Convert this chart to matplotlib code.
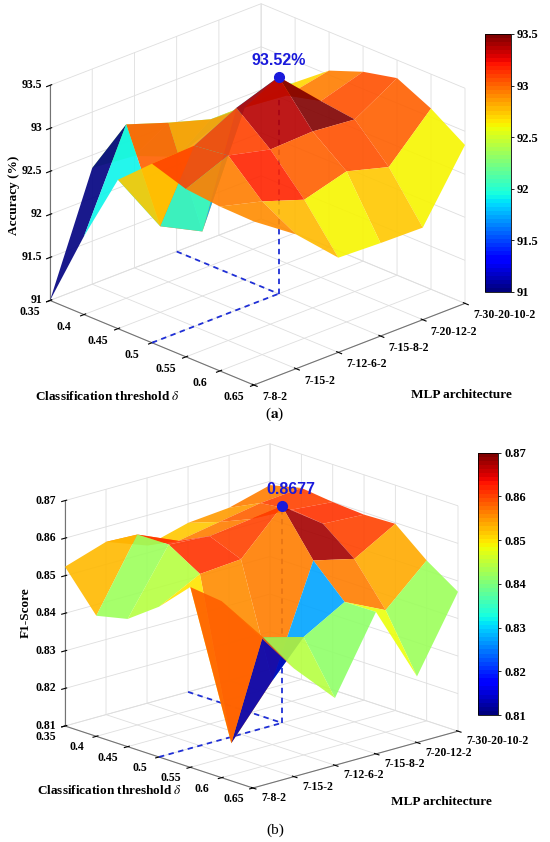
import matplotlib
matplotlib.use('Agg')
import matplotlib.pyplot as plt
import numpy as np
from matplotlib import colors as mcolors
from matplotlib import cm
from matplotlib.transforms import IdentityTransform
from mpl_toolkits.mplot3d import proj3d

plt.rcParams['font.family'] = ['Liberation Serif', 'DejaVu Serif']
plt.rcParams['mathtext.fontset'] = 'stix'

# grid of the sweep: rows = threshold, cols = MLP architecture
thresholds = [0.35, 0.40, 0.45, 0.50, 0.55, 0.60, 0.65]
thr_labels = ['0.35', '0.4', '0.45', '0.5', '0.55', '0.6', '0.65']
architectures = ['7-8-2', '7-15-2', '7-12-6-2', '7-15-8-2', '7-20-12-2', '7-30-20-10-2']

accuracy = np.array([
    [91.00, 92.35, 92.30, 92.10, 92.30, 92.50],
    [91.91, 93.02, 92.85, 92.70, 92.70, 92.75],
    [92.73, 92.00, 91.75, 93.00, 92.95, 93.05],
    [93.08, 93.10, 93.35, 93.52, 93.05, 93.20],
    [92.95, 93.15, 93.03, 93.05, 93.00, 93.29],
    [92.91, 92.78, 92.61, 92.75, 92.61, 93.10],
    [92.90, 92.56, 92.10, 92.08, 92.07, 92.84],
])

f1_score = np.array([
    [0.8524, 0.8560, 0.8520, 0.8550, 0.8560, 0.8590],
    [0.8421, 0.8607, 0.8560, 0.8580, 0.8600, 0.8610],
    [0.8440, 0.8608, 0.8600, 0.8615, 0.8610, 0.8600],
    [0.8500, 0.8557, 0.8566, 0.8677, 0.8600, 0.8594],
    [0.8580, 0.8134, 0.8270, 0.8560, 0.8534, 0.8597],
    [0.8570, 0.8444, 0.8414, 0.8477, 0.8425, 0.8527],
    [0.8520, 0.8388, 0.8279, 0.8478, 0.8276, 0.8471],
])

best_thr = 0.50
best_arch = 4          # 7-15-8-2
best_acc = 93.52
best_f1 = 0.8677

acc_ticks = [91, 91.5, 92, 92.5, 93, 93.5]
acc_tick_labels = ['91', '91.5', '92', '92.5', '93', '93.5']
f1_ticks = [0.81, 0.82, 0.83, 0.84, 0.85, 0.86, 0.87]
f1_tick_labels = ['0.81', '0.82', '0.83', '0.84', '0.85', '0.86', '0.87']

W, H = 550, 842
fig = plt.figure(figsize=(W / 100, H / 100), dpi=100)
cmap = plt.get_cmap('jet', 64)
grid_col = (0.87, 0.87, 0.87, 1.0)
axis_col = (0.45, 0.45, 0.45, 1.0)
blue = '#1a1adb'
tick_kw = dict(fontsize=8.5, fontweight='bold', transform=IdentityTransform())


def to_px(ax, x, y, z):
    px, py, _ = proj3d.proj_transform(x, y, z, ax.get_proj())
    return ax.transData.transform((px, py))


def put_zaxis_left(ax):
    # matplotlib picks the right-hand vertical edge for this view; MATLAB uses the left one
    for pos in ('lower', 'upper'):
        ax.zaxis.set_ticks_position(pos)
        fig.canvas.draw()
        xs = ax.transData.transform(ax.zaxis.line.get_xydata())[:, 0]
        if xs.mean() < ax.bbox.x0 + ax.bbox.width / 2:
            return


def fit_box(ax, left, right, bottom):
    # move/scale the 3d axes so the projected data box lands on the target pixels
    fig.canvas.draw()
    pts = np.array([to_px(ax, x, y, z)
                    for x in ax.get_xlim3d() for y in ax.get_ylim3d() for z in ax.get_zlim3d()])
    bl, br = pts[:, 0].min(), pts[:, 0].max()
    bb = pts[:, 1].min()
    pos = ax.get_position()
    cx = (pos.x0 + pos.width / 2) * W
    cy = (pos.y0 + pos.height / 2) * H
    S = pos.width * W
    k = (right - left) / (br - bl)
    ncx = left - k * (bl - cx)
    ncy = (H - bottom) - k * (bb - cy)
    nS = k * S
    ax.set_position([(ncx - nS / 2) / W, (ncy - nS / 2) / H, nS / W, nS / H])
    fig.canvas.draw()


def panel(Z, zlim, zticks, elev, azim, zaspect, best_val):
    ax = fig.add_axes([0, 0, 0.8, 0.5], projection='3d', proj_type='ortho', computed_zorder=False)
    ax.patch.set_visible(False)
    ax.view_init(elev=elev, azim=azim)
    ax.set_box_aspect((1, 1, zaspect))
    X, Y = np.meshgrid(thresholds, np.arange(1, 7), indexing='ij')
    norm = mcolors.Normalize(zlim[0], zlim[1])
    fc = cmap(norm(Z))

    # dashed guide lines to the best point (drawn under the translucent surface)
    ls = dict(ls=(0, (3, 2.5)), color='#1f2fd6', lw=1.3, zorder=1)
    ax.plot([best_thr, best_thr], [1, best_arch], [zlim[0], zlim[0]], **ls)
    ax.plot([thresholds[0], best_thr], [best_arch, best_arch], [zlim[0], zlim[0]], **ls)
    ax.plot([best_thr, best_thr], [best_arch, best_arch], [zlim[0], best_val], **ls)

    ax.plot_surface(X, Y, Z, facecolors=fc, rstride=1, cstride=1, shade=False,
                    linewidth=0, antialiased=True, alpha=0.9, zorder=2)
    ax.plot([best_thr], [best_arch], [best_val], 'o', color=blue, ms=7, zorder=5)

    ax.set_xlim(thresholds[0], thresholds[-1])
    ax.set_ylim(1, 6)
    ax.set_zlim(*zlim)
    ax.set_xticks(thresholds)
    ax.set_yticks(np.arange(1, 7))
    ax.set_zticks(zticks)
    ax.set_xticklabels([])
    ax.set_yticklabels([])
    ax.set_zticklabels([])
    for a in (ax.xaxis, ax.yaxis, ax.zaxis):
        a.set_pane_color((1, 1, 1, 0))
        a.pane.set_edgecolor(grid_col)
        a._axinfo['grid']['color'] = grid_col
        a._axinfo['grid']['linewidth'] = 0.6
        a._axinfo['axisline']['color'] = axis_col
        a._axinfo['tick']['color'] = axis_col
        a.line.set_color(axis_col)
        a.line.set_linewidth(0.8)
    ax.tick_params(length=3)
    put_zaxis_left(ax)
    return ax


def label_ticks(ax, zlim, zticks, zlabels, off_x, off_y, off_z, best_val, best_txt, off_best):
    # tick labels placed MATLAB-style, horizontal, beside the projected tick points
    for t, s in zip(thresholds, thr_labels):
        px, py = to_px(ax, t, 1, zlim[0])
        fig.text(px + off_x[0], py - off_x[1], s, ha='center', va='center', **tick_kw)
    for j, s in enumerate(architectures):
        px, py = to_px(ax, thresholds[-1], j + 1, zlim[0])
        fig.text(px + off_y[0], py - off_y[1], s, ha='left', va='center', **tick_kw)
    for t, s in zip(zticks, zlabels):
        px, py = to_px(ax, thresholds[0], 1, t)
        fig.text(px + off_z, py, s, ha='right', va='center', **tick_kw)
    px, py = to_px(ax, best_thr, best_arch, best_val)
    fig.text(px + off_best[0], py + off_best[1], best_txt, color=blue, fontsize=11.5, fontweight='bold',
             family='Liberation Sans', ha='center', va='center', transform=IdentityTransform())


ax1 = panel(accuracy, (91, 93.5), acc_ticks, 23.6, -44, 0.80, best_acc)
fit_box(ax1, 50, 465, 385)
label_ticks(ax1, (91, 93.5), acc_ticks, acc_tick_labels, (-20, 12), (8, 12), -8,
            best_acc, f'{best_acc:.2f}%', (0, 16))

ax2 = panel(f1_score, (0.81, 0.87), f1_ticks, 17.6, -42.5, 0.85, best_f1)
fit_box(ax2, 65, 458, 788)
label_ticks(ax2, (0.81, 0.87), f1_ticks, f1_tick_labels, (-19.5, 11), (8, 10), -9,
            best_f1, f'{best_f1:.4f}', (9, 17))

# colorbars
for rect, lim, ticks, labels in [
        ([485 / W, 1 - 291.7 / H, 25.7 / W, 257.7 / H], (91, 93.5), acc_ticks, acc_tick_labels),
        ([478.3 / W, 1 - 715 / H, 20 / W, 262.3 / H], (0.81, 0.87), f1_ticks, f1_tick_labels)]:
    cax = fig.add_axes(rect)
    sm = cm.ScalarMappable(norm=mcolors.Normalize(*lim), cmap=cmap)
    cb = fig.colorbar(sm, cax=cax)
    cb.set_ticks(ticks)
    cb.set_ticklabels(labels)
    cb.outline.set_linewidth(0.6)
    cax.tick_params(length=2.5, width=0.6, pad=2)
    for t in cax.get_yticklabels():
        t.set_fontsize(9)
        t.set_fontweight('bold')

# axis titles placed like the original (horizontal under the box)
lab = dict(fontsize=9.5, fontweight='bold', ha='center', va='center')
fig.text(14 / W, 1 - 195 / H, 'Accuracy (%)', rotation=90, **lab)
fig.text(108 / W, 1 - 397 / H, r'Classification threshold $\delta$', **lab)
fig.text(461 / W, 1 - 395 / H, 'MLP architecture', **lab)
fig.text(26 / W, 1 - 613 / H, 'F1-Score', rotation=90, **lab)
fig.text(110 / W, 1 - 791 / H, r'Classification threshold $\delta$', **lab)
fig.text(441 / W, 1 - 802 / H, 'MLP architecture', **lab)

fig.text(275 / W, 1 - 414 / H, r'($\mathbf{a}$)', fontsize=11, ha='center', va='center')
fig.text(275 / W, 1 - 830 / H, '(b)', fontsize=11, ha='center', va='center')

fig.savefig('out.png', dpi=100)
